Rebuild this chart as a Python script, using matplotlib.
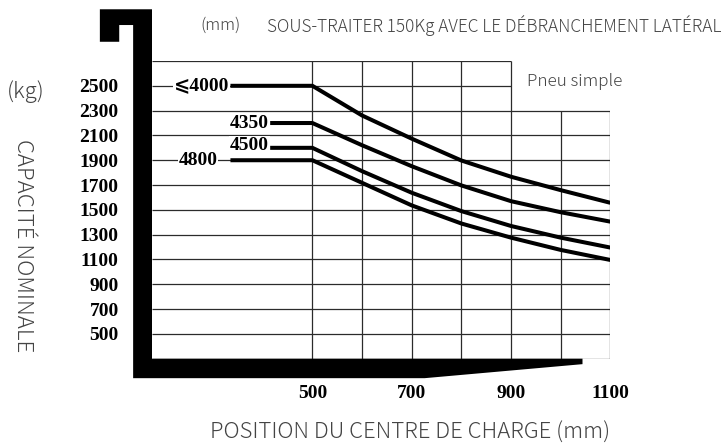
import numpy as np
import matplotlib.pyplot as plt
from matplotlib.patches import Polygon

centres_charge = [500, 600, 700, 800, 900, 1000, 1100]
cap_4000 = [2500, 2261, 2074, 1898, 1767, 1659, 1557]
cap_4350 = [2200, 2021, 1852, 1697, 1570, 1481, 1405]
cap_4500 = [2000, 1812, 1638, 1490, 1370, 1276, 1196]
cap_4800 = [1900, 1718, 1536, 1390, 1276, 1177, 1096]
hauteurs = ['⩽4000', '4350', '4500', '4800']
debut_palier = [335, 415, 415, 335]   # début du trait horizontal (mm)

y_ticks = [2500, 2300, 2100, 1900, 1700, 1500, 1300, 1100, 900, 700, 500]
x_ticks = [500, 700, 900, 1100]
grille_x = [500, 600, 700, 800, 900, 1000, 1100]
grille_y = [2700, 2500, 2300, 2100, 1900, 1700, 1500, 1300, 1100, 900, 700, 500, 300]

W, H = 724, 446
fig = plt.figure(figsize=(W / 100, H / 100), dpi=100)
ax = fig.add_axes([152 / W, (H - 358.7) / H, (610.3 - 152) / W, (358.7 - 61) / H])
ax.set_xlim(177, 1100)
ax.set_ylim(300, 2700)
for s in ax.spines.values():
    s.set_visible(False)
ax.patch.set_alpha(0)


def fpx(x, y):
    return x / W, 1 - y / H


# grille (le haut est coupé à 900 pour laisser la place à "Pneu simple")
gcol = '#2b2b2b'
for g in grille_y:
    ax.hlines(g, 177, 900 if g > 2300 else 1100, color=gcol, lw=0.9, zorder=1)
for g in grille_x:
    ax.vlines(g, 300, 2700 if g <= 900 else 2300, color=gcol, lw=0.9, zorder=1)

# courbes de capacité
series = [cap_4000, cap_4350, cap_4500, cap_4800]
for nom, x0, cap in zip(hauteurs, debut_palier, series):
    xs = [x0] + centres_charge
    ys = [cap[0]] + cap
    ax.plot(xs, ys, color='black', lw=2.9, solid_capstyle='butt',
            solid_joinstyle='round', zorder=3)

lab_font = dict(family=['Liberation Serif', 'DejaVu Serif', 'DejaVu Sans'],
                fontweight='bold', fontsize=14, color='black')
box = dict(fc='white', ec='none', pad=0.6)
ax.text(debut_palier[0] - 2, cap_4000[0], hauteurs[0], ha='right', va='center', bbox=box, zorder=4, **lab_font)
ax.text(debut_palier[1] - 2, cap_4350[0], hauteurs[1], ha='right', va='center', bbox=box, zorder=4, **lab_font)
ax.text(debut_palier[2] - 2, cap_4500[0] + 20, hauteurs[2], ha='right', va='center', bbox=box, zorder=4, **lab_font)
ax.text(debut_palier[3] - 26, cap_4800[0], hauteurs[3], ha='right', va='center', bbox=box, zorder=4, **lab_font)

# graduations
ax.set_yticks(y_ticks)
ax.set_yticklabels([str(v) for v in y_ticks], **lab_font)
ax.set_xticks(x_ticks)
ax.set_xticklabels([str(v) for v in x_ticks], **lab_font)
ax.tick_params(axis='y', length=0, pad=24)
ax.tick_params(axis='x', length=0, pad=19)

# fourche (décor)
fourche = [(72, 3117), (177, 3117), (177, 300), (1044, 300), (1044, 256),
           (726, 143), (139, 143), (139, 2990), (111, 2990), (111, 2855), (72, 2855)]
ax.add_patch(Polygon(fourche, closed=True, fc='black', ec='none', clip_on=False, zorder=5))

# textes
sans = dict(family=['Noto Sans CJK JP', 'DejaVu Sans'], color='#444444', fontweight='light')
fig.text(*fpx(200, 25), '(mm)', fontsize=12, va='center', **sans)
fig.text(*fpx(267, 25), 'SOUS-TRAITER 150Kg AVEC LE DÉBRANCHEMENT LATÉRAL', fontsize=12.4, va='center', **sans)
fig.text(*fpx(527, 82), 'Pneu simple', fontsize=12.3, va='center', **sans)
fig.text(*fpx(7, 92), '(kg)', fontsize=16, va='center', **sans)
fig.text(*fpx(23, 246), 'CAPACITÉ NOMINALE', fontsize=16, rotation=270, ha='center', va='center', **sans)
fig.text(*fpx(410, 433), 'POSITION DU CENTRE DE CHARGE (mm)', fontsize=15.9, ha='center', va='center', **sans)

fig.savefig('out.png', dpi=100)
